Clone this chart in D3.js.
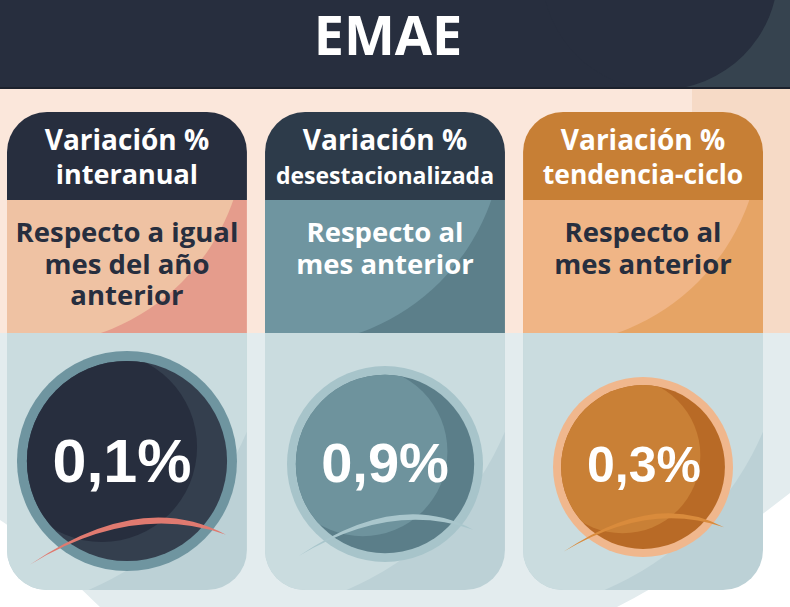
<!DOCTYPE html>
<html>
<head>
<meta charset="utf-8">
<script src="https://cdn.jsdelivr.net/npm/d3@7"></script>
<style>
  html, body { margin: 0; padding: 0; background: #fff; overflow: hidden; }
  svg { display: block; }
</style>
</head>
<body>
<div id="chart"></div>
<script>
// chart data
var title = 'EMAE';
var headLines = ['Variación %', 'Variación %', 'Variación %'];
var measures = ['interanual', 'desestacionalizada', 'tendencia-ciclo'];
var references = [
    ['Respecto a igual', 'mes del año', 'anterior'],
    ['Respecto al', 'mes anterior'],
    ['Respecto al', 'mes anterior']
];
var values = [0.1, 0.9, 0.3];

// look of each card (kept apart from the data)
var themes = [
    { head: '#272e3e', mid: '#efc2a3', midDark: '#e59c8c', midText: '#272e3e',
      ring: '#6f95a0', disc: '#343f4e', front: '#272e3e', swoosh: '#e07a70',
      r: 110, cy: 461, measureSize: 27, valueSize: 61, valueDx: -5 },
    { head: '#2d3b4a', mid: '#6f95a0', midDark: '#5c7f8a', midText: '#ffffff',
      ring: '#a7c4ca', disc: '#5b7e89', front: '#6e939d', swoosh: '#a9c6cc',
      r: 98, cy: 464, measureSize: 23, valueSize: 56, valueDx: 0 },
    { head: '#c77f35', mid: '#f0b586', midDark: '#e6a465', midText: '#272e3e',
      ring: '#f0b78d', disc: '#b86a26', front: '#c98036', swoosh: '#d98b3c',
      r: 90, cy: 467, measureSize: 26.5, valueSize: 50, valueDx: 1 }
];

var width = 790,
    height = 607,
    cardTop = 112,
    headBottom = 200,
    midBottom = 333,
    cardBottom = 590,
    corner = 40;

var pct = d3.formatLocale({ decimal: ',', thousands: '.', grouping: [3], currency: ['', ''] }).format('.1f');

var x = d3.scaleBand()
    .domain(measures)
    .range([7, 763])
    .paddingInner(0.07);
var bw = x.bandwidth();

var svg = d3.select('#chart')
    .append('svg')
    .attr('width', width)
    .attr('height', height);

var defs = svg.append('defs');

//----- background
defs.append('clipPath').attr('id', 'headClip')
    .append('rect').attr('width', width).attr('height', 88);

var head = svg.append('g').attr('clip-path', 'url(#headClip)');
head.append('rect').attr('width', width).attr('height', 88).attr('fill', '#272e3e');
head.append('rect').attr('x', 660).attr('width', 130).attr('height', 88).attr('fill', '#36434f');
head.append('circle').attr('cx', 660).attr('cy', -28).attr('r', 118).attr('fill', '#272e3e');

svg.append('rect').attr('y', 88).attr('width', width).attr('height', 246).attr('fill', '#fbe7db');
svg.append('rect').attr('x', 692).attr('y', 88).attr('width', 98).attr('height', 246).attr('fill', '#f6dac6');
svg.append('rect').attr('y', 87).attr('width', width).attr('height', 2).attr('fill', '#1c212c');

svg.append('rect').attr('y', midBottom).attr('width', width).attr('height', height - midBottom).attr('fill', '#ffffff');
svg.append('path')
    .attr('d', 'M0,' + midBottom + 'H790V493C730,540 670,580 617,607H100C62,570 30,540 0,520Z')
    .attr('fill', '#e3ecee');

svg.append('text')
    .attr('x', 388)
    .attr('y', 55)
    .attr('text-anchor', 'middle')
    .attr('font-family', 'Open Sans')
    .attr('font-weight', 700)
    .attr('font-size', 54)
    .attr('fill', '#ffffff')
    .text(title);

//----- cards
measures.forEach(function (m, i) {
    var t = themes[i],
        x0 = x(m),
        cx = x0 + bw / 2;

    defs.append('clipPath').attr('id', 'card' + i)
        .append('rect')
        .attr('x', x0).attr('y', cardTop)
        .attr('width', bw).attr('height', cardBottom - cardTop)
        .attr('rx', corner).attr('ry', corner);
    defs.append('clipPath').attr('id', 'mid' + i)
        .append('rect')
        .attr('x', x0).attr('y', headBottom)
        .attr('width', bw).attr('height', midBottom - headBottom);
    defs.append('clipPath').attr('id', 'low' + i)
        .append('rect')
        .attr('x', x0).attr('y', midBottom)
        .attr('width', bw).attr('height', cardBottom - midBottom);

    var card = svg.append('g').attr('clip-path', 'url(#card' + i + ')');

    card.append('rect')
        .attr('x', x0).attr('y', cardTop)
        .attr('width', bw).attr('height', headBottom - cardTop)
        .attr('fill', t.head);

    var mid = card.append('g').attr('clip-path', 'url(#mid' + i + ')');
    mid.append('rect')
        .attr('x', x0).attr('y', headBottom)
        .attr('width', bw).attr('height', midBottom - headBottom)
        .attr('fill', t.midDark);
    mid.append('circle')
        .attr('cx', x0 + 23).attr('cy', 130).attr('r', 215)
        .attr('fill', t.mid);

    var low = card.append('g').attr('clip-path', 'url(#low' + i + ')');
    low.append('rect')
        .attr('x', x0).attr('y', midBottom)
        .attr('width', bw).attr('height', cardBottom - midBottom)
        .attr('fill', '#bcd1d6');
    low.append('circle')
        .attr('cx', x0 - 36).attr('cy', 314).attr('r', 300)
        .attr('fill', '#cadcdf');

    // header lines
    card.append('text')
        .attr('x', cx).attr('y', 150)
        .attr('text-anchor', 'middle')
        .attr('font-family', 'Open Sans').attr('font-weight', 700)
        .attr('font-size', 28).attr('fill', '#ffffff')
        .text(headLines[i]);
    card.append('text')
        .attr('x', cx).attr('y', 184)
        .attr('text-anchor', 'middle')
        .attr('font-family', 'Open Sans').attr('font-weight', 700)
        .attr('font-size', t.measureSize).attr('fill', '#ffffff')
        .text(m);

    // reference lines
    card.selectAll('text.ref')
        .data(references[i])
        .enter()
        .append('text')
        .attr('class', 'ref')
        .attr('x', cx)
        .attr('y', function (d, j) { return 242 + j * 31.5; })
        .attr('text-anchor', 'middle')
        .attr('font-family', 'Open Sans').attr('font-weight', 700)
        .attr('font-size', 27.5).attr('fill', t.midText)
        .text(function (d) { return d; });

    // value disc
    var ringW = t.r * 0.09,
        ri = t.r - ringW;
    defs.append('clipPath').attr('id', 'disc' + i)
        .append('circle').attr('cx', cx).attr('cy', t.cy).attr('r', ri);

    card.append('circle').attr('cx', cx).attr('cy', t.cy).attr('r', t.r).attr('fill', t.ring);
    card.append('circle').attr('cx', cx).attr('cy', t.cy).attr('r', ri).attr('fill', t.disc);
    card.append('circle')
        .attr('clip-path', 'url(#disc' + i + ')')
        .attr('cx', cx - 0.25 * ri).attr('cy', t.cy - 0.14 * ri).attr('r', 0.95 * ri)
        .attr('fill', t.front);

    // brush swoosh under the number
    var L = [cx - 0.88 * t.r, t.cy + 0.94 * t.r],
        P = [cx + 0.07 * t.r, t.cy + 0.53 * t.r],
        R = [cx + 0.9 * t.r, t.cy + 0.67 * t.r],
        C = [2 * P[0] - (L[0] + R[0]) / 2, 2 * P[1] - (L[1] + R[1]) / 2],
        th = 0.12 * t.r;
    card.append('path')
        .attr('d', 'M' + L + 'Q' + C + ' ' + R +
                   'Q' + [C[0] - th * 0.6, C[1] + th] + ' ' + L + 'Z')
        .attr('fill', t.swoosh);

    card.append('text')
        .attr('x', cx + t.valueDx).attr('y', 482)
        .attr('text-anchor', 'middle')
        .attr('font-family', 'Liberation Sans').attr('font-weight', 700)
        .attr('font-size', t.valueSize).attr('fill', '#ffffff')
        .text(pct(values[i]) + '%');
});
</script>
</body>
</html>
